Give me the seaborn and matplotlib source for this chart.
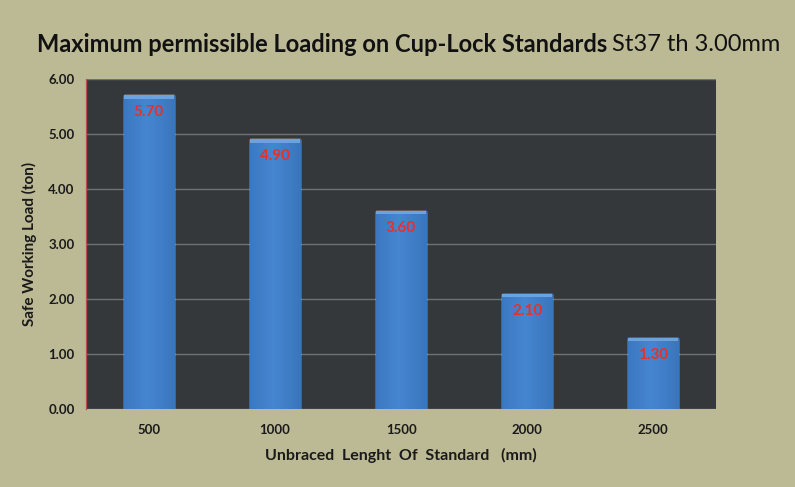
import numpy as np
import pandas as pd
import matplotlib
matplotlib.use("Agg")
import matplotlib.pyplot as plt
import seaborn as sns
from matplotlib.colors import LinearSegmentedColormap

categories = ["500", "1000", "1500", "2000", "2500"]
loads = [5.70, 4.90, 3.60, 2.10, 1.30]
value_labels = ["5.70", "4.90", "3.60", "2.10", "1.30"]

df = pd.DataFrame({"length": categories, "load": loads})

sns.set_style("dark")
plt.rcParams['font.family'] = ['Lato', 'DejaVu Sans']

BG = "#bcb995"
PLOT_BG = "#35383a"

fig = plt.figure(figsize=(7.95, 4.87), dpi=100, facecolor=BG)
ax = fig.add_axes([0.108, 0.160, 0.793, 0.678])
ax.set_facecolor(PLOT_BG)

sns.barplot(data=df, x="length", y="load", ax=ax, color="#3d7fcc",
            width=0.4, saturation=1, errorbar=None, zorder=3)

# subtle gradient overlay
grad = np.linspace(0, 1, 256)
prof = 1 - np.abs(grad - 0.45) * 1.3
prof = np.clip(prof, 0, 1)
cmap = LinearSegmentedColormap.from_list("b", ["#346fb6", "#4686d0"])
img = cmap(prof)[None, :, :]
for p in ax.patches:
    x0, y0 = p.get_x(), p.get_y()
    w, h = p.get_width(), p.get_height()
    im = ax.imshow(img, extent=[x0, x0 + w, y0, y0 + h], aspect="auto",
                   zorder=4, interpolation="bilinear")
    im.set_clip_path(p)
    ax.add_patch(plt.Rectangle((x0, y0 + h - 0.06), w, 0.06, color="#6aa3e0",
                               zorder=5, lw=0))

ax.set_xlim(-0.5, 4.5)
ax.set_ylim(0, 6)
ax.set_yticks(np.arange(0, 6.01, 1))
ax.set_yticklabels([f"{v:.2f}" for v in np.arange(0, 6.01, 1)])
ax.grid(axis="y", color="#6e7173", lw=1, zorder=1)
ax.grid(axis="x", visible=False)
for s in ["top", "right", "bottom"]:
    ax.spines[s].set_visible(False)
ax.spines["left"].set_visible(True)
ax.spines["left"].set_color("#b5504a")
ax.spines["left"].set_linewidth(0.9)
ax.tick_params(axis="y", length=0, labelsize=9.5, colors="#1a1a1a", pad=8)
ax.tick_params(axis="x", length=0, labelsize=9.5, colors="#1a1a1a", pad=11)
for t in ax.get_xticklabels() + ax.get_yticklabels():
    t.set_fontweight("bold")

for i, (v, lab) in enumerate(zip(loads, value_labels)):
    ax.text(i, v - 0.31, lab, ha="center", va="center", color="#e8302a",
            fontsize=11, fontweight="bold", zorder=6)

ax.set_xlabel("Unbraced  Lenght  Of  Standard   (mm)", fontsize=11.5,
              fontweight="bold", color="#1a1a1a", labelpad=8)
ax.set_ylabel("Safe Working Load (ton)", fontsize=11, fontweight="bold",
              color="#1a1a1a", labelpad=8)

t1 = fig.text(0.047, 0.908, "Maximum permissible Loading on Cup-Lock Standards",
              fontsize=17, fontweight="bold", color="#111111", va="center")
fig.canvas.draw()
bb = t1.get_window_extent()
x_end = bb.x1 / fig.bbox.width
fig.text(x_end + 0.006, 0.908, "St37 th 3.00mm", fontsize=17,
         color="#111111", va="center")

fig.savefig("out.png", dpi=100, facecolor=BG)
